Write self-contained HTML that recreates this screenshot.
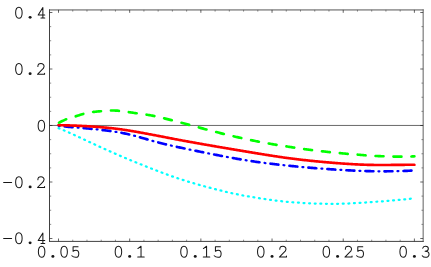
<!DOCTYPE html>
<html><head><meta charset="utf-8"><title>plot</title>
<style>
html,body{margin:0;padding:0;background:#fff;}
body{width:431px;height:267px;position:relative;overflow:hidden;font-family:"Liberation Mono",monospace;font-size:18.75px;}
.xl,.yl{position:absolute;line-height:20px;height:20px;white-space:pre;color:transparent;}
.xl{width:100px;text-align:center;}
.yl{left:0;width:47px;text-align:right;}
</style></head><body>
<svg width="431" height="267" viewBox="0 0 431 267" style="position:absolute;left:0;top:0">
<rect x="0" y="0" width="431" height="267" fill="#fff"/>
<line x1="49.5" y1="125.45" x2="423.15" y2="125.45" stroke="#444" stroke-width="0.8"/>
<path d="M58.50,128.11 L59.30,128.45 L60.30,128.86 L61.30,129.28 L62.30,129.69 L63.30,130.11 L64.30,130.54 L65.30,130.96 L66.30,131.39 L67.30,131.82 L68.30,132.26 L69.30,132.71 L70.30,133.15 L71.30,133.60 L72.30,134.06 L73.30,134.51 L74.30,134.97 L75.30,135.43 L76.30,135.89 L77.30,136.36 L78.30,136.82 L79.30,137.29 L80.30,137.75 L81.30,138.22 L82.30,138.68 L83.30,139.15 L84.30,139.61 L85.30,140.08 L86.30,140.55 L87.30,141.01 L88.30,141.48 L89.30,141.94 L90.30,142.41 L91.30,142.87 L92.30,143.33 L93.30,143.80 L94.30,144.26 L95.30,144.72 L96.30,145.18 L97.30,145.64 L98.30,146.10 L99.30,146.56 L100.30,147.02 L101.30,147.47 L102.30,147.93 L103.30,148.38 L104.30,148.83 L105.30,149.29 L106.30,149.74 L107.30,150.19 L108.30,150.63 L109.30,151.08 L110.30,151.53 L111.30,151.97 L112.30,152.41 L113.30,152.85 L114.30,153.29 L115.30,153.73 L116.30,154.17 L117.30,154.60 L118.30,155.03 L119.30,155.46 L120.30,155.89 L121.30,156.32 L122.30,156.74 L123.30,157.17 L124.30,157.59 L125.30,158.01 L126.30,158.43 L127.30,158.85 L128.30,159.26 L129.30,159.68 L130.30,160.09 L131.30,160.50 L132.30,160.92 L133.30,161.33 L134.30,161.74 L135.30,162.14 L136.30,162.55 L137.30,162.96 L138.30,163.36 L139.30,163.77 L140.30,164.17 L141.30,164.57 L142.30,164.98 L143.30,165.38 L144.30,165.77 L145.30,166.17 L146.30,166.57 L147.30,166.96 L148.30,167.35 L149.30,167.75 L150.30,168.13 L151.30,168.52 L152.30,168.91 L153.30,169.30 L154.30,169.68 L155.30,170.07 L156.30,170.45 L157.30,170.83 L158.30,171.22 L159.30,171.60 L160.30,171.98 L161.30,172.36 L162.30,172.74 L163.30,173.12 L164.30,173.49 L165.30,173.86 L166.30,174.24 L167.30,174.60 L168.30,174.97 L169.30,175.34 L170.30,175.70 L171.30,176.05 L172.30,176.41 L173.30,176.76 L174.30,177.11 L175.30,177.45 L176.30,177.80 L177.30,178.13 L178.30,178.47 L179.30,178.80 L180.30,179.13 L181.30,179.46 L182.30,179.78 L183.30,180.10 L184.30,180.42 L185.30,180.73 L186.30,181.04 L187.30,181.35 L188.30,181.66 L189.30,181.96 L190.30,182.26 L191.30,182.56 L192.30,182.86 L193.30,183.15 L194.30,183.45 L195.30,183.74 L196.30,184.02 L197.30,184.31 L198.30,184.59 L199.30,184.88 L200.30,185.16 L201.30,185.44 L202.30,185.72 L203.30,185.99 L204.30,186.27 L205.30,186.54 L206.30,186.81 L207.30,187.08 L208.30,187.35 L209.30,187.62 L210.30,187.88 L211.30,188.15 L212.30,188.41 L213.30,188.67 L214.30,188.93 L215.30,189.19 L216.30,189.44 L217.30,189.69 L218.30,189.94 L219.30,190.19 L220.30,190.44 L221.30,190.69 L222.30,190.93 L223.30,191.17 L224.30,191.41 L225.30,191.65 L226.30,191.89 L227.30,192.12 L228.30,192.35 L229.30,192.58 L230.30,192.81 L231.30,193.03 L232.30,193.25 L233.30,193.47 L234.30,193.69 L235.30,193.90 L236.30,194.11 L237.30,194.31 L238.30,194.52 L239.30,194.72 L240.30,194.91 L241.30,195.11 L242.30,195.30 L243.30,195.49 L244.30,195.67 L245.30,195.85 L246.30,196.03 L247.30,196.21 L248.30,196.39 L249.30,196.56 L250.30,196.74 L251.30,196.91 L252.30,197.07 L253.30,197.24 L254.30,197.40 L255.30,197.57 L256.30,197.73 L257.30,197.89 L258.30,198.05 L259.30,198.20 L260.30,198.36 L261.30,198.51 L262.30,198.67 L263.30,198.82 L264.30,198.97 L265.30,199.12 L266.30,199.26 L267.30,199.41 L268.30,199.55 L269.30,199.69 L270.30,199.83 L271.30,199.97 L272.30,200.10 L273.30,200.23 L274.30,200.36 L275.30,200.49 L276.30,200.62 L277.30,200.74 L278.30,200.86 L279.30,200.98 L280.30,201.09 L281.30,201.20 L282.30,201.31 L283.30,201.42 L284.30,201.52 L285.30,201.63 L286.30,201.72 L287.30,201.82 L288.30,201.91 L289.30,202.00 L290.30,202.09 L291.30,202.17 L292.30,202.25 L293.30,202.33 L294.30,202.41 L295.30,202.48 L296.30,202.56 L297.30,202.62 L298.30,202.69 L299.30,202.76 L300.30,202.82 L301.30,202.88 L302.30,202.94 L303.30,202.99 L304.30,203.05 L305.30,203.10 L306.30,203.15 L307.30,203.20 L308.30,203.25 L309.30,203.29 L310.30,203.33 L311.30,203.38 L312.30,203.42 L313.30,203.45 L314.30,203.49 L315.30,203.53 L316.30,203.56 L317.30,203.59 L318.30,203.63 L319.30,203.66 L320.30,203.69 L321.30,203.71 L322.30,203.74 L323.30,203.77 L324.30,203.79 L325.30,203.81 L326.30,203.83 L327.30,203.85 L328.30,203.87 L329.30,203.88 L330.30,203.89 L331.30,203.90 L332.30,203.90 L333.30,203.90 L334.30,203.90 L335.30,203.89 L336.30,203.88 L337.30,203.87 L338.30,203.85 L339.30,203.83 L340.30,203.80 L341.30,203.78 L342.30,203.74 L343.30,203.71 L344.30,203.68 L345.30,203.64 L346.30,203.60 L347.30,203.55 L348.30,203.51 L349.30,203.46 L350.30,203.41 L351.30,203.36 L352.30,203.31 L353.30,203.25 L354.30,203.20 L355.30,203.14 L356.30,203.08 L357.30,203.02 L358.30,202.96 L359.30,202.90 L360.30,202.84 L361.30,202.78 L362.30,202.71 L363.30,202.65 L364.30,202.58 L365.30,202.52 L366.30,202.45 L367.30,202.39 L368.30,202.32 L369.30,202.25 L370.30,202.18 L371.30,202.11 L372.30,202.04 L373.30,201.97 L374.30,201.90 L375.30,201.82 L376.30,201.75 L377.30,201.68 L378.30,201.60 L379.30,201.53 L380.30,201.45 L381.30,201.37 L382.30,201.30 L383.30,201.22 L384.30,201.14 L385.30,201.06 L386.30,200.98 L387.30,200.89 L388.30,200.81 L389.30,200.73 L390.30,200.64 L391.30,200.56 L392.30,200.47 L393.30,200.38 L394.30,200.30 L395.30,200.21 L396.30,200.12 L397.30,200.03 L398.30,199.94 L399.30,199.84 L400.30,199.75 L401.30,199.66 L402.30,199.56 L403.30,199.47 L404.30,199.37 L405.30,199.27 L406.30,199.18 L407.30,199.08 L408.30,198.98 L409.30,198.88 L410.30,198.77 L411.30,198.67 L412.30,198.57 L413.30,198.46 L414.30,198.36 L414.40,198.35" fill="none" stroke="#00ffff" stroke-width="2.25" stroke-linecap="round" stroke-linejoin="round" stroke-dasharray="0.950 4.657" stroke-dashoffset="-0.067"/>
<path d="M58.50,125.91 L59.30,125.99 L60.30,126.09 L61.30,126.18 L62.30,126.28 L63.30,126.37 L64.30,126.46 L65.30,126.55 L66.30,126.64 L67.30,126.72 L68.30,126.81 L69.30,126.90 L70.30,126.98 L71.30,127.07 L72.30,127.16 L73.30,127.24 L74.30,127.32 L75.30,127.41 L76.30,127.49 L77.30,127.58 L78.30,127.66 L79.30,127.75 L80.30,127.83 L81.30,127.92 L82.30,128.01 L83.30,128.09 L84.30,128.18 L85.30,128.27 L86.30,128.36 L87.30,128.46 L88.30,128.55 L89.30,128.64 L90.30,128.74 L91.30,128.84 L92.30,128.94 L93.30,129.04 L94.30,129.14 L95.30,129.24 L96.30,129.35 L97.30,129.46 L98.30,129.57 L99.30,129.68 L100.30,129.80 L101.30,129.91 L102.30,130.03 L103.30,130.15 L104.30,130.27 L105.30,130.39 L106.30,130.52 L107.30,130.64 L108.30,130.77 L109.30,130.91 L110.30,131.04 L111.30,131.18 L112.30,131.32 L113.30,131.47 L114.30,131.62 L115.30,131.77 L116.30,131.93 L117.30,132.10 L118.30,132.26 L119.30,132.44 L120.30,132.61 L121.30,132.80 L122.30,132.98 L123.30,133.18 L124.30,133.38 L125.30,133.58 L126.30,133.79 L127.30,134.01 L128.30,134.23 L129.30,134.47 L130.30,134.70 L131.30,134.95 L132.30,135.20 L133.30,135.46 L134.30,135.72 L135.30,135.99 L136.30,136.26 L137.30,136.54 L138.30,136.81 L139.30,137.10 L140.30,137.38 L141.30,137.67 L142.30,137.96 L143.30,138.25 L144.30,138.54 L145.30,138.83 L146.30,139.12 L147.30,139.40 L148.30,139.69 L149.30,139.98 L150.30,140.26 L151.30,140.54 L152.30,140.82 L153.30,141.10 L154.30,141.37 L155.30,141.64 L156.30,141.91 L157.30,142.17 L158.30,142.43 L159.30,142.69 L160.30,142.95 L161.30,143.20 L162.30,143.45 L163.30,143.70 L164.30,143.95 L165.30,144.19 L166.30,144.43 L167.30,144.67 L168.30,144.91 L169.30,145.14 L170.30,145.37 L171.30,145.60 L172.30,145.83 L173.30,146.06 L174.30,146.28 L175.30,146.51 L176.30,146.73 L177.30,146.95 L178.30,147.17 L179.30,147.38 L180.30,147.60 L181.30,147.81 L182.30,148.03 L183.30,148.24 L184.30,148.45 L185.30,148.66 L186.30,148.87 L187.30,149.08 L188.30,149.29 L189.30,149.49 L190.30,149.70 L191.30,149.90 L192.30,150.11 L193.30,150.31 L194.30,150.52 L195.30,150.72 L196.30,150.92 L197.30,151.12 L198.30,151.33 L199.30,151.53 L200.30,151.73 L201.30,151.93 L202.30,152.13 L203.30,152.33 L204.30,152.53 L205.30,152.73 L206.30,152.93 L207.30,153.13 L208.30,153.33 L209.30,153.53 L210.30,153.73 L211.30,153.93 L212.30,154.12 L213.30,154.32 L214.30,154.52 L215.30,154.71 L216.30,154.91 L217.30,155.10 L218.30,155.30 L219.30,155.49 L220.30,155.68 L221.30,155.87 L222.30,156.07 L223.30,156.26 L224.30,156.45 L225.30,156.64 L226.30,156.82 L227.30,157.01 L228.30,157.20 L229.30,157.38 L230.30,157.57 L231.30,157.75 L232.30,157.93 L233.30,158.11 L234.30,158.29 L235.30,158.47 L236.30,158.65 L237.30,158.82 L238.30,159.00 L239.30,159.17 L240.30,159.34 L241.30,159.51 L242.30,159.67 L243.30,159.84 L244.30,160.00 L245.30,160.16 L246.30,160.32 L247.30,160.48 L248.30,160.64 L249.30,160.79 L250.30,160.94 L251.30,161.10 L252.30,161.25 L253.30,161.39 L254.30,161.54 L255.30,161.69 L256.30,161.83 L257.30,161.97 L258.30,162.11 L259.30,162.25 L260.30,162.39 L261.30,162.53 L262.30,162.66 L263.30,162.79 L264.30,162.93 L265.30,163.06 L266.30,163.18 L267.30,163.31 L268.30,163.43 L269.30,163.56 L270.30,163.68 L271.30,163.80 L272.30,163.92 L273.30,164.04 L274.30,164.15 L275.30,164.27 L276.30,164.38 L277.30,164.50 L278.30,164.61 L279.30,164.72 L280.30,164.82 L281.30,164.93 L282.30,165.04 L283.30,165.14 L284.30,165.25 L285.30,165.35 L286.30,165.45 L287.30,165.56 L288.30,165.66 L289.30,165.76 L290.30,165.86 L291.30,165.96 L292.30,166.06 L293.30,166.16 L294.30,166.26 L295.30,166.35 L296.30,166.45 L297.30,166.55 L298.30,166.64 L299.30,166.74 L300.30,166.83 L301.30,166.93 L302.30,167.02 L303.30,167.11 L304.30,167.20 L305.30,167.29 L306.30,167.38 L307.30,167.47 L308.30,167.55 L309.30,167.64 L310.30,167.73 L311.30,167.81 L312.30,167.89 L313.30,167.98 L314.30,168.06 L315.30,168.14 L316.30,168.22 L317.30,168.30 L318.30,168.38 L319.30,168.45 L320.30,168.53 L321.30,168.61 L322.30,168.68 L323.30,168.75 L324.30,168.83 L325.30,168.90 L326.30,168.97 L327.30,169.04 L328.30,169.11 L329.30,169.18 L330.30,169.25 L331.30,169.31 L332.30,169.38 L333.30,169.44 L334.30,169.51 L335.30,169.57 L336.30,169.63 L337.30,169.70 L338.30,169.76 L339.30,169.82 L340.30,169.87 L341.30,169.93 L342.30,169.99 L343.30,170.05 L344.30,170.10 L345.30,170.16 L346.30,170.21 L347.30,170.26 L348.30,170.31 L349.30,170.36 L350.30,170.41 L351.30,170.46 L352.30,170.51 L353.30,170.56 L354.30,170.61 L355.30,170.65 L356.30,170.70 L357.30,170.74 L358.30,170.78 L359.30,170.82 L360.30,170.86 L361.30,170.90 L362.30,170.94 L363.30,170.97 L364.30,171.01 L365.30,171.04 L366.30,171.07 L367.30,171.10 L368.30,171.13 L369.30,171.15 L370.30,171.17 L371.30,171.20 L372.30,171.22 L373.30,171.23 L374.30,171.25 L375.30,171.26 L376.30,171.27 L377.30,171.28 L378.30,171.29 L379.30,171.30 L380.30,171.30 L381.30,171.30 L382.30,171.31 L383.30,171.31 L384.30,171.30 L385.30,171.30 L386.30,171.30 L387.30,171.29 L388.30,171.28 L389.30,171.27 L390.30,171.26 L391.30,171.25 L392.30,171.24 L393.30,171.22 L394.30,171.20 L395.30,171.18 L396.30,171.16 L397.30,171.14 L398.30,171.12 L399.30,171.09 L400.30,171.06 L401.30,171.03 L402.30,171.00 L403.30,170.97 L404.30,170.93 L405.30,170.90 L406.30,170.86 L407.30,170.82 L408.30,170.78 L409.30,170.73 L410.30,170.69 L411.30,170.64 L412.30,170.59 L413.30,170.54 L414.30,170.49 L414.40,170.49" fill="none" stroke="#0000ff" stroke-width="2.65" stroke-linecap="round" stroke-linejoin="round" stroke-dasharray="7.950 11.099" stroke-dashoffset="12.881"/>
<path d="M58.50,125.91 L59.30,125.99 L60.30,126.09 L61.30,126.18 L62.30,126.28 L63.30,126.37 L64.30,126.46 L65.30,126.55 L66.30,126.64 L67.30,126.72 L68.30,126.81 L69.30,126.90 L70.30,126.98 L71.30,127.07 L72.30,127.16 L73.30,127.24 L74.30,127.32 L75.30,127.41 L76.30,127.49 L77.30,127.58 L78.30,127.66 L79.30,127.75 L80.30,127.83 L81.30,127.92 L82.30,128.01 L83.30,128.09 L84.30,128.18 L85.30,128.27 L86.30,128.36 L87.30,128.46 L88.30,128.55 L89.30,128.64 L90.30,128.74 L91.30,128.84 L92.30,128.94 L93.30,129.04 L94.30,129.14 L95.30,129.24 L96.30,129.35 L97.30,129.46 L98.30,129.57 L99.30,129.68 L100.30,129.80 L101.30,129.91 L102.30,130.03 L103.30,130.15 L104.30,130.27 L105.30,130.39 L106.30,130.52 L107.30,130.64 L108.30,130.77 L109.30,130.91 L110.30,131.04 L111.30,131.18 L112.30,131.32 L113.30,131.47 L114.30,131.62 L115.30,131.77 L116.30,131.93 L117.30,132.10 L118.30,132.26 L119.30,132.44 L120.30,132.61 L121.30,132.80 L122.30,132.98 L123.30,133.18 L124.30,133.38 L125.30,133.58 L126.30,133.79 L127.30,134.01 L128.30,134.23 L129.30,134.47 L130.30,134.70 L131.30,134.95 L132.30,135.20 L133.30,135.46 L134.30,135.72 L135.30,135.99 L136.30,136.26 L137.30,136.54 L138.30,136.81 L139.30,137.10 L140.30,137.38 L141.30,137.67 L142.30,137.96 L143.30,138.25 L144.30,138.54 L145.30,138.83 L146.30,139.12 L147.30,139.40 L148.30,139.69 L149.30,139.98 L150.30,140.26 L151.30,140.54 L152.30,140.82 L153.30,141.10 L154.30,141.37 L155.30,141.64 L156.30,141.91 L157.30,142.17 L158.30,142.43 L159.30,142.69 L160.30,142.95 L161.30,143.20 L162.30,143.45 L163.30,143.70 L164.30,143.95 L165.30,144.19 L166.30,144.43 L167.30,144.67 L168.30,144.91 L169.30,145.14 L170.30,145.37 L171.30,145.60 L172.30,145.83 L173.30,146.06 L174.30,146.28 L175.30,146.51 L176.30,146.73 L177.30,146.95 L178.30,147.17 L179.30,147.38 L180.30,147.60 L181.30,147.81 L182.30,148.03 L183.30,148.24 L184.30,148.45 L185.30,148.66 L186.30,148.87 L187.30,149.08 L188.30,149.29 L189.30,149.49 L190.30,149.70 L191.30,149.90 L192.30,150.11 L193.30,150.31 L194.30,150.52 L195.30,150.72 L196.30,150.92 L197.30,151.12 L198.30,151.33 L199.30,151.53 L200.30,151.73 L201.30,151.93 L202.30,152.13 L203.30,152.33 L204.30,152.53 L205.30,152.73 L206.30,152.93 L207.30,153.13 L208.30,153.33 L209.30,153.53 L210.30,153.73 L211.30,153.93 L212.30,154.12 L213.30,154.32 L214.30,154.52 L215.30,154.71 L216.30,154.91 L217.30,155.10 L218.30,155.30 L219.30,155.49 L220.30,155.68 L221.30,155.87 L222.30,156.07 L223.30,156.26 L224.30,156.45 L225.30,156.64 L226.30,156.82 L227.30,157.01 L228.30,157.20 L229.30,157.38 L230.30,157.57 L231.30,157.75 L232.30,157.93 L233.30,158.11 L234.30,158.29 L235.30,158.47 L236.30,158.65 L237.30,158.82 L238.30,159.00 L239.30,159.17 L240.30,159.34 L241.30,159.51 L242.30,159.67 L243.30,159.84 L244.30,160.00 L245.30,160.16 L246.30,160.32 L247.30,160.48 L248.30,160.64 L249.30,160.79 L250.30,160.94 L251.30,161.10 L252.30,161.25 L253.30,161.39 L254.30,161.54 L255.30,161.69 L256.30,161.83 L257.30,161.97 L258.30,162.11 L259.30,162.25 L260.30,162.39 L261.30,162.53 L262.30,162.66 L263.30,162.79 L264.30,162.93 L265.30,163.06 L266.30,163.18 L267.30,163.31 L268.30,163.43 L269.30,163.56 L270.30,163.68 L271.30,163.80 L272.30,163.92 L273.30,164.04 L274.30,164.15 L275.30,164.27 L276.30,164.38 L277.30,164.50 L278.30,164.61 L279.30,164.72 L280.30,164.82 L281.30,164.93 L282.30,165.04 L283.30,165.14 L284.30,165.25 L285.30,165.35 L286.30,165.45 L287.30,165.56 L288.30,165.66 L289.30,165.76 L290.30,165.86 L291.30,165.96 L292.30,166.06 L293.30,166.16 L294.30,166.26 L295.30,166.35 L296.30,166.45 L297.30,166.55 L298.30,166.64 L299.30,166.74 L300.30,166.83 L301.30,166.93 L302.30,167.02 L303.30,167.11 L304.30,167.20 L305.30,167.29 L306.30,167.38 L307.30,167.47 L308.30,167.55 L309.30,167.64 L310.30,167.73 L311.30,167.81 L312.30,167.89 L313.30,167.98 L314.30,168.06 L315.30,168.14 L316.30,168.22 L317.30,168.30 L318.30,168.38 L319.30,168.45 L320.30,168.53 L321.30,168.61 L322.30,168.68 L323.30,168.75 L324.30,168.83 L325.30,168.90 L326.30,168.97 L327.30,169.04 L328.30,169.11 L329.30,169.18 L330.30,169.25 L331.30,169.31 L332.30,169.38 L333.30,169.44 L334.30,169.51 L335.30,169.57 L336.30,169.63 L337.30,169.70 L338.30,169.76 L339.30,169.82 L340.30,169.87 L341.30,169.93 L342.30,169.99 L343.30,170.05 L344.30,170.10 L345.30,170.16 L346.30,170.21 L347.30,170.26 L348.30,170.31 L349.30,170.36 L350.30,170.41 L351.30,170.46 L352.30,170.51 L353.30,170.56 L354.30,170.61 L355.30,170.65 L356.30,170.70 L357.30,170.74 L358.30,170.78 L359.30,170.82 L360.30,170.86 L361.30,170.90 L362.30,170.94 L363.30,170.97 L364.30,171.01 L365.30,171.04 L366.30,171.07 L367.30,171.10 L368.30,171.13 L369.30,171.15 L370.30,171.17 L371.30,171.20 L372.30,171.22 L373.30,171.23 L374.30,171.25 L375.30,171.26 L376.30,171.27 L377.30,171.28 L378.30,171.29 L379.30,171.30 L380.30,171.30 L381.30,171.30 L382.30,171.31 L383.30,171.31 L384.30,171.30 L385.30,171.30 L386.30,171.30 L387.30,171.29 L388.30,171.28 L389.30,171.27 L390.30,171.26 L391.30,171.25 L392.30,171.24 L393.30,171.22 L394.30,171.20 L395.30,171.18 L396.30,171.16 L397.30,171.14 L398.30,171.12 L399.30,171.09 L400.30,171.06 L401.30,171.03 L402.30,171.00 L403.30,170.97 L404.30,170.93 L405.30,170.90 L406.30,170.86 L407.30,170.82 L408.30,170.78 L409.30,170.73 L410.30,170.69 L411.30,170.64 L412.30,170.59 L413.30,170.54 L414.30,170.49 L414.40,170.49" fill="none" stroke="#0000ff" stroke-width="2.25" stroke-linecap="round" stroke-linejoin="round" stroke-dasharray="0.950 18.099" stroke-dashoffset="-0.144"/>
<path d="M58.50,125.15 L59.30,125.17 L60.30,125.19 L61.30,125.22 L62.30,125.24 L63.30,125.27 L64.30,125.29 L65.30,125.32 L66.30,125.35 L67.30,125.38 L68.30,125.41 L69.30,125.44 L70.30,125.48 L71.30,125.51 L72.30,125.54 L73.30,125.58 L74.30,125.62 L75.30,125.66 L76.30,125.69 L77.30,125.74 L78.30,125.78 L79.30,125.82 L80.30,125.87 L81.30,125.91 L82.30,125.96 L83.30,126.01 L84.30,126.06 L85.30,126.11 L86.30,126.17 L87.30,126.22 L88.30,126.28 L89.30,126.34 L90.30,126.40 L91.30,126.47 L92.30,126.53 L93.30,126.60 L94.30,126.67 L95.30,126.74 L96.30,126.82 L97.30,126.90 L98.30,126.97 L99.30,127.05 L100.30,127.14 L101.30,127.22 L102.30,127.31 L103.30,127.40 L104.30,127.49 L105.30,127.58 L106.30,127.67 L107.30,127.77 L108.30,127.87 L109.30,127.97 L110.30,128.08 L111.30,128.18 L112.30,128.29 L113.30,128.40 L114.30,128.52 L115.30,128.64 L116.30,128.76 L117.30,128.89 L118.30,129.02 L119.30,129.15 L120.30,129.28 L121.30,129.42 L122.30,129.56 L123.30,129.71 L124.30,129.85 L125.30,130.00 L126.30,130.15 L127.30,130.31 L128.30,130.47 L129.30,130.63 L130.30,130.79 L131.30,130.95 L132.30,131.12 L133.30,131.29 L134.30,131.46 L135.30,131.63 L136.30,131.81 L137.30,131.98 L138.30,132.16 L139.30,132.34 L140.30,132.52 L141.30,132.70 L142.30,132.89 L143.30,133.07 L144.30,133.26 L145.30,133.44 L146.30,133.63 L147.30,133.82 L148.30,134.00 L149.30,134.19 L150.30,134.38 L151.30,134.57 L152.30,134.76 L153.30,134.95 L154.30,135.14 L155.30,135.32 L156.30,135.51 L157.30,135.71 L158.30,135.90 L159.30,136.09 L160.30,136.28 L161.30,136.47 L162.30,136.67 L163.30,136.86 L164.30,137.06 L165.30,137.25 L166.30,137.45 L167.30,137.64 L168.30,137.84 L169.30,138.03 L170.30,138.22 L171.30,138.42 L172.30,138.61 L173.30,138.80 L174.30,138.99 L175.30,139.18 L176.30,139.37 L177.30,139.56 L178.30,139.75 L179.30,139.94 L180.30,140.12 L181.30,140.31 L182.30,140.50 L183.30,140.68 L184.30,140.86 L185.30,141.05 L186.30,141.23 L187.30,141.41 L188.30,141.60 L189.30,141.78 L190.30,141.96 L191.30,142.14 L192.30,142.32 L193.30,142.50 L194.30,142.67 L195.30,142.85 L196.30,143.03 L197.30,143.21 L198.30,143.39 L199.30,143.56 L200.30,143.74 L201.30,143.92 L202.30,144.09 L203.30,144.27 L204.30,144.44 L205.30,144.62 L206.30,144.79 L207.30,144.97 L208.30,145.14 L209.30,145.32 L210.30,145.49 L211.30,145.66 L212.30,145.84 L213.30,146.01 L214.30,146.18 L215.30,146.36 L216.30,146.53 L217.30,146.70 L218.30,146.87 L219.30,147.04 L220.30,147.21 L221.30,147.38 L222.30,147.55 L223.30,147.72 L224.30,147.89 L225.30,148.06 L226.30,148.23 L227.30,148.40 L228.30,148.56 L229.30,148.73 L230.30,148.90 L231.30,149.07 L232.30,149.23 L233.30,149.40 L234.30,149.57 L235.30,149.73 L236.30,149.90 L237.30,150.07 L238.30,150.23 L239.30,150.40 L240.30,150.57 L241.30,150.74 L242.30,150.90 L243.30,151.07 L244.30,151.24 L245.30,151.41 L246.30,151.58 L247.30,151.75 L248.30,151.91 L249.30,152.08 L250.30,152.25 L251.30,152.42 L252.30,152.58 L253.30,152.75 L254.30,152.92 L255.30,153.08 L256.30,153.25 L257.30,153.41 L258.30,153.57 L259.30,153.74 L260.30,153.90 L261.30,154.06 L262.30,154.22 L263.30,154.38 L264.30,154.54 L265.30,154.70 L266.30,154.86 L267.30,155.02 L268.30,155.18 L269.30,155.33 L270.30,155.49 L271.30,155.65 L272.30,155.80 L273.30,155.95 L274.30,156.11 L275.30,156.26 L276.30,156.41 L277.30,156.56 L278.30,156.71 L279.30,156.86 L280.30,157.01 L281.30,157.16 L282.30,157.30 L283.30,157.45 L284.30,157.59 L285.30,157.73 L286.30,157.87 L287.30,158.01 L288.30,158.15 L289.30,158.28 L290.30,158.41 L291.30,158.54 L292.30,158.67 L293.30,158.80 L294.30,158.92 L295.30,159.04 L296.30,159.16 L297.30,159.28 L298.30,159.40 L299.30,159.51 L300.30,159.63 L301.30,159.74 L302.30,159.85 L303.30,159.97 L304.30,160.08 L305.30,160.18 L306.30,160.29 L307.30,160.40 L308.30,160.51 L309.30,160.61 L310.30,160.71 L311.30,160.82 L312.30,160.92 L313.30,161.02 L314.30,161.12 L315.30,161.22 L316.30,161.32 L317.30,161.42 L318.30,161.51 L319.30,161.61 L320.30,161.70 L321.30,161.79 L322.30,161.89 L323.30,161.98 L324.30,162.07 L325.30,162.16 L326.30,162.25 L327.30,162.34 L328.30,162.42 L329.30,162.51 L330.30,162.59 L331.30,162.68 L332.30,162.76 L333.30,162.84 L334.30,162.92 L335.30,163.00 L336.30,163.08 L337.30,163.15 L338.30,163.23 L339.30,163.30 L340.30,163.37 L341.30,163.45 L342.30,163.52 L343.30,163.59 L344.30,163.65 L345.30,163.72 L346.30,163.79 L347.30,163.85 L348.30,163.92 L349.30,163.98 L350.30,164.04 L351.30,164.10 L352.30,164.16 L353.30,164.21 L354.30,164.27 L355.30,164.32 L356.30,164.37 L357.30,164.42 L358.30,164.47 L359.30,164.52 L360.30,164.56 L361.30,164.60 L362.30,164.64 L363.30,164.68 L364.30,164.72 L365.30,164.75 L366.30,164.78 L367.30,164.81 L368.30,164.84 L369.30,164.86 L370.30,164.88 L371.30,164.90 L372.30,164.92 L373.30,164.93 L374.30,164.95 L375.30,164.96 L376.30,164.97 L377.30,164.98 L378.30,164.98 L379.30,164.99 L380.30,164.99 L381.30,164.99 L382.30,164.99 L383.30,164.99 L384.30,164.99 L385.30,164.98 L386.30,164.98 L387.30,164.97 L388.30,164.96 L389.30,164.96 L390.30,164.95 L391.30,164.94 L392.30,164.93 L393.30,164.92 L394.30,164.91 L395.30,164.90 L396.30,164.88 L397.30,164.87 L398.30,164.86 L399.30,164.85 L400.30,164.84 L401.30,164.83 L402.30,164.82 L403.30,164.81 L404.30,164.81 L405.30,164.80 L406.30,164.79 L407.30,164.79 L408.30,164.78 L409.30,164.78 L410.30,164.78 L411.30,164.78 L412.30,164.78 L413.30,164.78 L414.30,164.78 L414.40,164.79" fill="none" stroke="#ff0000" stroke-width="2.65" stroke-linecap="round" stroke-linejoin="round"/>
<path d="M58.50,122.87 L59.30,122.51 L60.30,122.03 L61.30,121.55 L62.30,121.06 L63.30,120.58 L64.30,120.10 L65.30,119.64 L66.30,119.21 L67.30,118.81 L68.30,118.45 L69.30,118.12 L70.30,117.83 L71.30,117.55 L72.30,117.28 L73.30,117.02 L74.30,116.74 L75.30,116.45 L76.30,116.14 L77.30,115.83 L78.30,115.51 L79.30,115.18 L80.30,114.86 L81.30,114.54 L82.30,114.23 L83.30,113.93 L84.30,113.65 L85.30,113.38 L86.30,113.14 L87.30,112.91 L88.30,112.71 L89.30,112.52 L90.30,112.34 L91.30,112.19 L92.30,112.05 L93.30,111.92 L94.30,111.81 L95.30,111.70 L96.30,111.60 L97.30,111.51 L98.30,111.43 L99.30,111.35 L100.30,111.27 L101.30,111.19 L102.30,111.10 L103.30,111.02 L104.30,110.93 L105.30,110.85 L106.30,110.76 L107.30,110.69 L108.30,110.62 L109.30,110.57 L110.30,110.53 L111.30,110.50 L112.30,110.49 L113.30,110.50 L114.30,110.52 L115.30,110.56 L116.30,110.61 L117.30,110.68 L118.30,110.76 L119.30,110.85 L120.30,110.96 L121.30,111.08 L122.30,111.21 L123.30,111.35 L124.30,111.49 L125.30,111.64 L126.30,111.80 L127.30,111.95 L128.30,112.10 L129.30,112.24 L130.30,112.38 L131.30,112.52 L132.30,112.66 L133.30,112.80 L134.30,112.94 L135.30,113.08 L136.30,113.22 L137.30,113.35 L138.30,113.49 L139.30,113.63 L140.30,113.77 L141.30,113.91 L142.30,114.06 L143.30,114.20 L144.30,114.35 L145.30,114.50 L146.30,114.65 L147.30,114.81 L148.30,114.97 L149.30,115.14 L150.30,115.31 L151.30,115.49 L152.30,115.67 L153.30,115.86 L154.30,116.06 L155.30,116.27 L156.30,116.48 L157.30,116.69 L158.30,116.91 L159.30,117.14 L160.30,117.37 L161.30,117.61 L162.30,117.85 L163.30,118.09 L164.30,118.34 L165.30,118.59 L166.30,118.84 L167.30,119.09 L168.30,119.35 L169.30,119.60 L170.30,119.86 L171.30,120.12 L172.30,120.37 L173.30,120.63 L174.30,120.89 L175.30,121.15 L176.30,121.41 L177.30,121.68 L178.30,121.94 L179.30,122.21 L180.30,122.47 L181.30,122.74 L182.30,123.01 L183.30,123.28 L184.30,123.55 L185.30,123.82 L186.30,124.09 L187.30,124.36 L188.30,124.64 L189.30,124.91 L190.30,125.18 L191.30,125.45 L192.30,125.72 L193.30,125.99 L194.30,126.26 L195.30,126.53 L196.30,126.79 L197.30,127.06 L198.30,127.32 L199.30,127.59 L200.30,127.85 L201.30,128.12 L202.30,128.39 L203.30,128.65 L204.30,128.92 L205.30,129.18 L206.30,129.45 L207.30,129.71 L208.30,129.98 L209.30,130.24 L210.30,130.51 L211.30,130.77 L212.30,131.03 L213.30,131.29 L214.30,131.55 L215.30,131.81 L216.30,132.07 L217.30,132.33 L218.30,132.58 L219.30,132.84 L220.30,133.09 L221.30,133.34 L222.30,133.59 L223.30,133.84 L224.30,134.08 L225.30,134.33 L226.30,134.57 L227.30,134.81 L228.30,135.06 L229.30,135.29 L230.30,135.53 L231.30,135.77 L232.30,136.00 L233.30,136.24 L234.30,136.47 L235.30,136.70 L236.30,136.93 L237.30,137.15 L238.30,137.38 L239.30,137.60 L240.30,137.83 L241.30,138.05 L242.30,138.27 L243.30,138.49 L244.30,138.70 L245.30,138.92 L246.30,139.13 L247.30,139.35 L248.30,139.56 L249.30,139.77 L250.30,139.98 L251.30,140.18 L252.30,140.39 L253.30,140.59 L254.30,140.79 L255.30,140.99 L256.30,141.19 L257.30,141.39 L258.30,141.58 L259.30,141.78 L260.30,141.97 L261.30,142.16 L262.30,142.35 L263.30,142.53 L264.30,142.72 L265.30,142.90 L266.30,143.09 L267.30,143.27 L268.30,143.45 L269.30,143.62 L270.30,143.80 L271.30,143.97 L272.30,144.15 L273.30,144.32 L274.30,144.49 L275.30,144.65 L276.30,144.82 L277.30,144.98 L278.30,145.15 L279.30,145.31 L280.30,145.47 L281.30,145.63 L282.30,145.79 L283.30,145.94 L284.30,146.10 L285.30,146.25 L286.30,146.41 L287.30,146.56 L288.30,146.72 L289.30,146.87 L290.30,147.02 L291.30,147.17 L292.30,147.32 L293.30,147.48 L294.30,147.63 L295.30,147.78 L296.30,147.93 L297.30,148.07 L298.30,148.22 L299.30,148.37 L300.30,148.51 L301.30,148.65 L302.30,148.80 L303.30,148.94 L304.30,149.08 L305.30,149.21 L306.30,149.35 L307.30,149.48 L308.30,149.62 L309.30,149.75 L310.30,149.87 L311.30,150.00 L312.30,150.13 L313.30,150.25 L314.30,150.38 L315.30,150.50 L316.30,150.62 L317.30,150.74 L318.30,150.85 L319.30,150.97 L320.30,151.08 L321.30,151.20 L322.30,151.31 L323.30,151.42 L324.30,151.53 L325.30,151.64 L326.30,151.75 L327.30,151.86 L328.30,151.96 L329.30,152.07 L330.30,152.17 L331.30,152.28 L332.30,152.38 L333.30,152.48 L334.30,152.58 L335.30,152.68 L336.30,152.78 L337.30,152.88 L338.30,152.98 L339.30,153.08 L340.30,153.17 L341.30,153.27 L342.30,153.36 L343.30,153.45 L344.30,153.54 L345.30,153.63 L346.30,153.72 L347.30,153.81 L348.30,153.89 L349.30,153.98 L350.30,154.06 L351.30,154.14 L352.30,154.23 L353.30,154.31 L354.30,154.39 L355.30,154.47 L356.30,154.55 L357.30,154.64 L358.30,154.72 L359.30,154.80 L360.30,154.88 L361.30,154.96 L362.30,155.04 L363.30,155.12 L364.30,155.20 L365.30,155.28 L366.30,155.36 L367.30,155.43 L368.30,155.50 L369.30,155.57 L370.30,155.64 L371.30,155.70 L372.30,155.77 L373.30,155.83 L374.30,155.88 L375.30,155.94 L376.30,155.99 L377.30,156.04 L378.30,156.09 L379.30,156.13 L380.30,156.17 L381.30,156.21 L382.30,156.25 L383.30,156.29 L384.30,156.33 L385.30,156.36 L386.30,156.39 L387.30,156.42 L388.30,156.45 L389.30,156.48 L390.30,156.50 L391.30,156.53 L392.30,156.55 L393.30,156.57 L394.30,156.60 L395.30,156.61 L396.30,156.63 L397.30,156.65 L398.30,156.66 L399.30,156.67 L400.30,156.68 L401.30,156.68 L402.30,156.68 L403.30,156.68 L404.30,156.67 L405.30,156.65 L406.30,156.64 L407.30,156.61 L408.30,156.59 L409.30,156.55 L410.30,156.51 L411.30,156.47 L412.30,156.42 L413.30,156.37 L414.30,156.31 L414.40,156.30" fill="none" stroke="#00ff00" stroke-width="2.65" stroke-linecap="round" stroke-linejoin="round" stroke-dasharray="7.950 9.987" stroke-dashoffset="-0.560"/>
<g stroke-width="1" stroke-linecap="square" fill="none"><line x1="49.5" y1="9.950000000000001" x2="423.15" y2="9.950000000000001" stroke="#555"/><line x1="423.15" y1="9.9" x2="423.15" y2="241.4" stroke="#606060"/><line x1="49.5" y1="241.4" x2="423.15" y2="241.4" stroke="#404040"/><line x1="49.5" y1="9.9" x2="49.5" y2="241.4" stroke="#404040"/></g>
<path d="M58.50,241.4v-2.9 M58.50,9.9v2.9 M129.68,241.4v-2.9 M129.68,9.9v2.9 M200.86,241.4v-2.9 M200.86,9.9v2.9 M272.04,241.4v-2.9 M272.04,9.9v2.9 M343.22,241.4v-2.9 M343.22,9.9v2.9 M414.40,241.4v-2.9 M414.40,9.9v2.9 M49.5,238.50h2.9 M423.15,238.50h-2.9 M49.5,182.00h2.9 M423.15,182.00h-2.9 M49.5,125.50h2.9 M423.15,125.50h-2.9 M49.5,69.00h2.9 M423.15,69.00h-2.9 M49.5,12.50h2.9 M423.15,12.50h-2.9" stroke="#222" stroke-width="0.7" fill="none"/>
<path d="M72.74,241.4v-1.7 M72.74,9.9v1.7 M86.97,241.4v-1.7 M86.97,9.9v1.7 M101.21,241.4v-1.7 M101.21,9.9v1.7 M115.44,241.4v-1.7 M115.44,9.9v1.7 M143.92,241.4v-1.7 M143.92,9.9v1.7 M158.15,241.4v-1.7 M158.15,9.9v1.7 M172.39,241.4v-1.7 M172.39,9.9v1.7 M186.62,241.4v-1.7 M186.62,9.9v1.7 M215.10,241.4v-1.7 M215.10,9.9v1.7 M229.33,241.4v-1.7 M229.33,9.9v1.7 M243.57,241.4v-1.7 M243.57,9.9v1.7 M257.80,241.4v-1.7 M257.80,9.9v1.7 M286.28,241.4v-1.7 M286.28,9.9v1.7 M300.51,241.4v-1.7 M300.51,9.9v1.7 M314.75,241.4v-1.7 M314.75,9.9v1.7 M328.98,241.4v-1.7 M328.98,9.9v1.7 M357.46,241.4v-1.7 M357.46,9.9v1.7 M371.69,241.4v-1.7 M371.69,9.9v1.7 M385.93,241.4v-1.7 M385.93,9.9v1.7 M400.16,241.4v-1.7 M400.16,9.9v1.7 M49.5,224.38h1.7 M423.15,224.38h-1.7 M49.5,210.25h1.7 M423.15,210.25h-1.7 M49.5,196.12h1.7 M423.15,196.12h-1.7 M49.5,167.88h1.7 M423.15,167.88h-1.7 M49.5,153.75h1.7 M423.15,153.75h-1.7 M49.5,139.62h1.7 M423.15,139.62h-1.7 M49.5,111.38h1.7 M423.15,111.38h-1.7 M49.5,97.25h1.7 M423.15,97.25h-1.7 M49.5,83.12h1.7 M423.15,83.12h-1.7 M49.5,54.88h1.7 M423.15,54.88h-1.7 M49.5,40.75h1.7 M423.15,40.75h-1.7 M49.5,26.62h1.7 M423.15,26.62h-1.7" stroke="#444" stroke-width="0.6" fill="none"/>
<g fill="none" stroke="#161616" stroke-width="1.02" stroke-linecap="round" stroke-linejoin="round">
<path transform="translate(41.62,257.55)" d="M0,-11.2 C2.1,-11.2 3.25,-9 3.25,-5.7 C3.25,-2.4 2.1,-0.2 0,-0.2 C-2.1,-0.2 -3.25,-2.4 -3.25,-5.7 C-3.25,-9 -2.1,-11.2 0,-11.2 Z"/>
<ellipse cx="52.88" cy="256.45" rx="1.5" ry="1.35" fill="#161616" stroke="none"/>
<path transform="translate(64.12,257.55)" d="M0,-11.2 C2.1,-11.2 3.25,-9 3.25,-5.7 C3.25,-2.4 2.1,-0.2 0,-0.2 C-2.1,-0.2 -3.25,-2.4 -3.25,-5.7 C-3.25,-9 -2.1,-11.2 0,-11.2 Z"/>
<path transform="translate(75.38,257.55)" d="M2.7,-10.9 L-2.3,-10.9 L-2.3,-6.2 C-1.4,-7 -0.4,-7.4 0.6,-7.4 C2.3,-7.4 3.4,-5.9 3.4,-3.9 C3.4,-1.7 2.1,-0.2 0.3,-0.2 C-1.3,-0.2 -2.7,-0.8 -3.5,-1.8"/>
<path transform="translate(118.43,257.55)" d="M0,-11.2 C2.1,-11.2 3.25,-9 3.25,-5.7 C3.25,-2.4 2.1,-0.2 0,-0.2 C-2.1,-0.2 -3.25,-2.4 -3.25,-5.7 C-3.25,-9 -2.1,-11.2 0,-11.2 Z"/>
<ellipse cx="129.68" cy="256.45" rx="1.5" ry="1.35" fill="#161616" stroke="none"/>
<path transform="translate(140.93,257.55)" d="M-3.1,-9.0 L0.1,-11.3 L0.1,-0.45 M-3.2,-0.45 L3.3,-0.45"/>
<path transform="translate(183.98,257.55)" d="M0,-11.2 C2.1,-11.2 3.25,-9 3.25,-5.7 C3.25,-2.4 2.1,-0.2 0,-0.2 C-2.1,-0.2 -3.25,-2.4 -3.25,-5.7 C-3.25,-9 -2.1,-11.2 0,-11.2 Z"/>
<ellipse cx="195.23" cy="256.45" rx="1.5" ry="1.35" fill="#161616" stroke="none"/>
<path transform="translate(206.48,257.55)" d="M-3.1,-9.0 L0.1,-11.3 L0.1,-0.45 M-3.2,-0.45 L3.3,-0.45"/>
<path transform="translate(217.73,257.55)" d="M2.7,-10.9 L-2.3,-10.9 L-2.3,-6.2 C-1.4,-7 -0.4,-7.4 0.6,-7.4 C2.3,-7.4 3.4,-5.9 3.4,-3.9 C3.4,-1.7 2.1,-0.2 0.3,-0.2 C-1.3,-0.2 -2.7,-0.8 -3.5,-1.8"/>
<path transform="translate(260.79,257.55)" d="M0,-11.2 C2.1,-11.2 3.25,-9 3.25,-5.7 C3.25,-2.4 2.1,-0.2 0,-0.2 C-2.1,-0.2 -3.25,-2.4 -3.25,-5.7 C-3.25,-9 -2.1,-11.2 0,-11.2 Z"/>
<ellipse cx="272.04" cy="256.45" rx="1.5" ry="1.35" fill="#161616" stroke="none"/>
<path transform="translate(283.29,257.55)" d="M-3.5,-8.3 C-3.5,-10.1 -2.1,-11.2 -0.4,-11.2 C1.4,-11.2 2.7,-10 2.7,-8.4 C2.7,-7.0 1.8,-6.0 0.2,-4.6 L-3.9,-0.5 L3.2,-0.5 L3.2,-1.6"/>
<path transform="translate(326.34,257.55)" d="M0,-11.2 C2.1,-11.2 3.25,-9 3.25,-5.7 C3.25,-2.4 2.1,-0.2 0,-0.2 C-2.1,-0.2 -3.25,-2.4 -3.25,-5.7 C-3.25,-9 -2.1,-11.2 0,-11.2 Z"/>
<ellipse cx="337.59" cy="256.45" rx="1.5" ry="1.35" fill="#161616" stroke="none"/>
<path transform="translate(348.84,257.55)" d="M-3.5,-8.3 C-3.5,-10.1 -2.1,-11.2 -0.4,-11.2 C1.4,-11.2 2.7,-10 2.7,-8.4 C2.7,-7.0 1.8,-6.0 0.2,-4.6 L-3.9,-0.5 L3.2,-0.5 L3.2,-1.6"/>
<path transform="translate(360.09,257.55)" d="M2.7,-10.9 L-2.3,-10.9 L-2.3,-6.2 C-1.4,-7 -0.4,-7.4 0.6,-7.4 C2.3,-7.4 3.4,-5.9 3.4,-3.9 C3.4,-1.7 2.1,-0.2 0.3,-0.2 C-1.3,-0.2 -2.7,-0.8 -3.5,-1.8"/>
<path transform="translate(403.15,257.55)" d="M0,-11.2 C2.1,-11.2 3.25,-9 3.25,-5.7 C3.25,-2.4 2.1,-0.2 0,-0.2 C-2.1,-0.2 -3.25,-2.4 -3.25,-5.7 C-3.25,-9 -2.1,-11.2 0,-11.2 Z"/>
<ellipse cx="414.40" cy="256.45" rx="1.5" ry="1.35" fill="#161616" stroke="none"/>
<path transform="translate(425.65,257.55)" d="M-2.9,-9.4 C-2.5,-10.6 -1.4,-11.2 -0.1,-11.2 C1.5,-11.2 2.7,-10.2 2.7,-8.8 C2.7,-7.3 1.5,-6.4 -0.6,-6.3 C1.8,-6.3 3.4,-5.1 3.4,-3.3 C3.4,-1.4 1.9,-0.2 -0.1,-0.2 C-1.6,-0.2 -2.8,-0.8 -3.4,-1.8"/>
<path transform="translate(18.88,18.45)" d="M0,-11.2 C2.1,-11.2 3.25,-9 3.25,-5.7 C3.25,-2.4 2.1,-0.2 0,-0.2 C-2.1,-0.2 -3.25,-2.4 -3.25,-5.7 C-3.25,-9 -2.1,-11.2 0,-11.2 Z"/>
<ellipse cx="30.12" cy="17.35" rx="1.5" ry="1.35" fill="#161616" stroke="none"/>
<path transform="translate(41.38,18.45)" d="M1.5,-0.45 L1.5,-11.0 L-3.2,-3.5 L3.4,-3.5 M-0.4,-0.45 L3.4,-0.45"/>
<path transform="translate(18.88,74.80)" d="M0,-11.2 C2.1,-11.2 3.25,-9 3.25,-5.7 C3.25,-2.4 2.1,-0.2 0,-0.2 C-2.1,-0.2 -3.25,-2.4 -3.25,-5.7 C-3.25,-9 -2.1,-11.2 0,-11.2 Z"/>
<ellipse cx="30.12" cy="73.70" rx="1.5" ry="1.35" fill="#161616" stroke="none"/>
<path transform="translate(41.38,74.80)" d="M-3.5,-8.3 C-3.5,-10.1 -2.1,-11.2 -0.4,-11.2 C1.4,-11.2 2.7,-10 2.7,-8.4 C2.7,-7.0 1.8,-6.0 0.2,-4.6 L-3.9,-0.5 L3.2,-0.5 L3.2,-1.6"/>
<path transform="translate(41.38,131.50)" d="M0,-11.2 C2.1,-11.2 3.25,-9 3.25,-5.7 C3.25,-2.4 2.1,-0.2 0,-0.2 C-2.1,-0.2 -3.25,-2.4 -3.25,-5.7 C-3.25,-9 -2.1,-11.2 0,-11.2 Z"/>
<path transform="translate(7.62,188.00)" d="M-4.0,-5.4 L4.0,-5.4"/>
<path transform="translate(18.88,188.00)" d="M0,-11.2 C2.1,-11.2 3.25,-9 3.25,-5.7 C3.25,-2.4 2.1,-0.2 0,-0.2 C-2.1,-0.2 -3.25,-2.4 -3.25,-5.7 C-3.25,-9 -2.1,-11.2 0,-11.2 Z"/>
<ellipse cx="30.12" cy="186.90" rx="1.5" ry="1.35" fill="#161616" stroke="none"/>
<path transform="translate(41.38,188.00)" d="M-3.5,-8.3 C-3.5,-10.1 -2.1,-11.2 -0.4,-11.2 C1.4,-11.2 2.7,-10 2.7,-8.4 C2.7,-7.0 1.8,-6.0 0.2,-4.6 L-3.9,-0.5 L3.2,-0.5 L3.2,-1.6"/>
<path transform="translate(7.62,243.95)" d="M-4.0,-5.4 L4.0,-5.4"/>
<path transform="translate(18.88,243.95)" d="M0,-11.2 C2.1,-11.2 3.25,-9 3.25,-5.7 C3.25,-2.4 2.1,-0.2 0,-0.2 C-2.1,-0.2 -3.25,-2.4 -3.25,-5.7 C-3.25,-9 -2.1,-11.2 0,-11.2 Z"/>
<ellipse cx="30.12" cy="242.85" rx="1.5" ry="1.35" fill="#161616" stroke="none"/>
<path transform="translate(41.38,243.95)" d="M1.5,-0.45 L1.5,-11.0 L-3.2,-3.5 L3.4,-3.5 M-0.4,-0.45 L3.4,-0.45"/>
</g>
</svg>
<div class="xl" style="left:8.50px;top:241.55px">0.05</div>
<div class="xl" style="left:79.68px;top:241.55px">0.1</div>
<div class="xl" style="left:150.86px;top:241.55px">0.15</div>
<div class="xl" style="left:222.04px;top:241.55px">0.2</div>
<div class="xl" style="left:293.22px;top:241.55px">0.25</div>
<div class="xl" style="left:364.40px;top:241.55px">0.3</div>
<div class="yl" style="top:2.45px">0.4</div>
<div class="yl" style="top:58.80px">0.2</div>
<div class="yl" style="top:115.50px">0</div>
<div class="yl" style="top:172.00px">−0.2</div>
<div class="yl" style="top:227.95px">−0.4</div>
</body></html>
